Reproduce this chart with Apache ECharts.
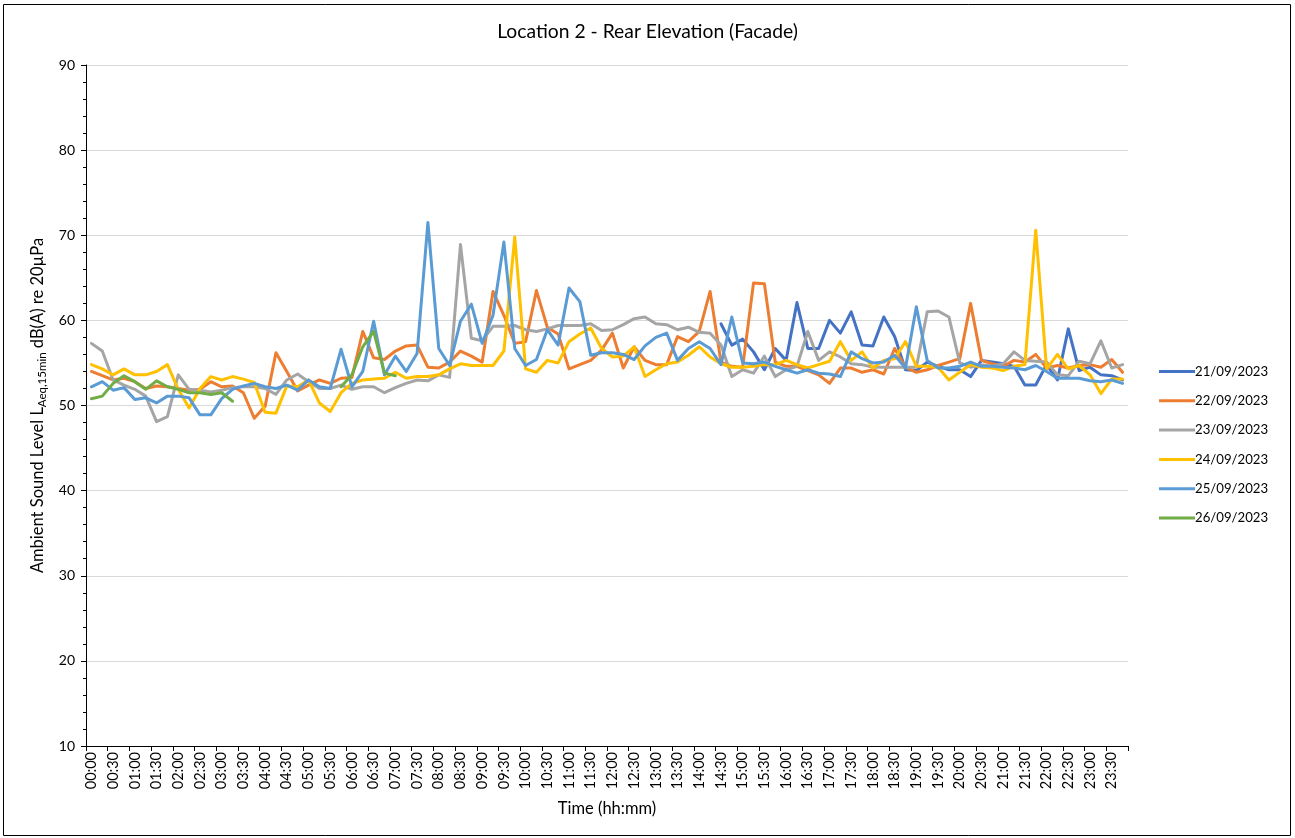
<!DOCTYPE html>
<html>
<head>
<meta charset="utf-8">
<title>Location 2 - Rear Elevation (Facade)</title>
<script src="https://cdn.jsdelivr.net/npm/echarts@6/dist/echarts.min.js"></script>
<style>
  html, body { margin: 0; padding: 0; background: #ffffff; }
  #chart { width: 1295px; height: 838px; }
</style>
</head>
<body>
<div id="chart"></div>
<script>
// 15-minute time slots across the day
const times = [];
for (let h = 0; h < 24; h++) {
  for (let m = 0; m < 60; m += 15) {
    times.push(String(h).padStart(2, '0') + ':' + String(m).padStart(2, '0'));
  }
}

const seriesNames = ['21/09/2023', '22/09/2023', '23/09/2023', '24/09/2023', '25/09/2023', '26/09/2023'];

// LAeq,15min per slot, dB(A); null where no measurement exists
const day21 = [
  null, null, null, null, null, null, null, null, null, null,
  null, null, null, null, null, null, null, null, null, null,
  null, null, null, null, null, null, null, null, null, null,
  null, null, null, null, null, null, null, null, null, null,
  null, null, null, null, null, null, null, null, null, null,
  null, null, null, null, null, null, null, null, 59.6, 57.1,
  57.8, 56.3, 54.2, 56.7, 55.3, 62.1, 56.7, 56.7, 60.0, 58.5,
  61.0, 57.1, 57.0, 60.4, 58.1, 54.2, 54.1, 55.1, 54.6, 54.2,
  54.2, 53.4, 55.3, 55.1, 54.9, 54.6, 52.4, 52.4, 54.8, 53.0,
  59.0, 54.1, 54.5, 53.6, 53.5, 53.0
];
const day22 = [
  54.0, 53.5, 53.0, 53.2, 52.8, 52.0, 52.3, 52.2, 52.0, 51.8,
  51.9, 52.8, 52.2, 52.3, 51.5, 48.5, 49.9, 56.2, 54.0, 51.7,
  52.4, 53.0, 52.6, 53.2, 53.3, 58.7, 55.6, 55.4, 56.4, 57.0,
  57.1, 54.5, 54.4, 55.1, 56.4, 55.8, 55.1, 63.4, 60.6, 57.3,
  57.5, 63.5, 59.2, 58.4, 54.3, 54.8, 55.3, 56.5, 58.5, 54.4,
  56.9, 55.3, 54.8, 54.8, 58.1, 57.5, 58.7, 63.4, 55.1, 54.6,
  54.5, 64.4, 64.3, 55.1, 54.6, 54.6, 54.1, 53.6, 52.6, 54.4,
  54.4, 53.9, 54.2, 53.7, 56.7, 54.5, 53.9, 54.2, 54.7, 55.1,
  55.5, 62.0, 55.3, 54.9, 54.6, 55.3, 55.1, 56.0, 54.4, 54.7,
  54.4, 54.7, 54.8, 54.5, 55.4, 53.9
];
const day23 = [
  57.3, 56.4, 53.0, 52.4, 51.9, 51.1, 48.1, 48.7, 53.6, 51.9,
  51.8, 51.6, 51.8, 52.1, 52.2, 52.2, 52.0, 51.3, 53.0, 53.7,
  52.8, 52.0, 52.0, 52.4, 51.9, 52.2, 52.2, 51.5, 52.1, 52.6,
  53.0, 52.9, 53.6, 53.3, 68.9, 57.9, 57.6, 59.3, 59.3, 59.4,
  58.9, 58.7, 59.0, 59.4, 59.4, 59.4, 59.6, 58.8, 58.9, 59.5,
  60.2, 60.4, 59.6, 59.5, 58.9, 59.2, 58.6, 58.5, 57.1, 53.4,
  54.2, 53.8, 55.8, 53.4, 54.2, 54.6, 58.7, 55.3, 56.3, 55.7,
  54.9, 54.8, 54.5, 54.5, 54.5, 54.5, 54.5, 61.0, 61.1, 60.4,
  55.0, 54.5, 54.8, 54.6, 54.9, 56.3, 55.3, 55.2, 55.1, 53.6,
  53.5, 55.2, 54.9, 57.6, 54.4, 54.8
];
const day24 = [
  54.8, 54.3, 53.6, 54.3, 53.6, 53.6, 54.0, 54.8, 51.9, 49.7,
  52.0, 53.4, 53.0, 53.4, 53.1, 52.7, 49.2, 49.1, 52.3, 52.2,
  53.0, 50.3, 49.3, 51.5, 52.6, 53.0, 53.1, 53.2, 53.9, 53.2,
  53.4, 53.4, 53.6, 54.3, 54.9, 54.7, 54.7, 54.7, 56.4, 69.8,
  54.3, 53.9, 55.3, 55.0, 57.5, 58.4, 59.1, 56.7, 55.7, 55.8,
  56.9, 53.4, 54.2, 54.9, 55.1, 55.9, 56.9, 55.7, 54.9, 54.5,
  54.5, 54.6, 54.8, 54.8, 55.3, 54.8, 54.4, 54.8, 55.2, 57.5,
  55.3, 56.3, 54.4, 55.3, 55.5, 57.5, 54.6, 54.6, 54.5, 53.0,
  53.9, 54.8, 54.5, 54.4, 54.1, 54.6, 54.8, 70.6, 54.3, 56.0,
  54.3, 54.7, 53.6, 51.4, 53.1, 53.1
];
const day25 = [
  52.2, 52.8, 51.8, 52.1, 50.7, 50.9, 50.3, 51.1, 51.1, 50.9,
  48.9, 48.9, 50.8, 51.9, 52.3, 52.6, 52.2, 52.0, 52.4, 51.8,
  53.0, 52.2, 52.0, 56.6, 52.2, 54.0, 59.9, 53.6, 55.8, 54.0,
  56.1, 71.5, 56.7, 54.7, 59.9, 61.9, 57.3, 60.6, 69.2, 56.7,
  54.7, 55.4, 58.9, 57.1, 63.8, 62.2, 55.9, 56.2, 56.2, 56.0,
  55.4, 57.0, 58.0, 58.5, 55.3, 56.7, 57.5, 56.7, 54.8, 60.4,
  55.0, 54.9, 55.1, 54.6, 54.2, 53.8, 54.2, 53.8, 53.7, 53.4,
  56.3, 55.5, 55.0, 55.1, 55.9, 54.4, 61.6, 55.3, 54.4, 54.4,
  54.6, 55.1, 54.6, 54.6, 54.5, 54.4, 54.2, 54.7, 54.0, 53.2,
  53.2, 53.2, 52.9, 52.8, 53.0, 52.6
];
const day26 = [
  50.8, 51.1, 52.6, 53.5, 52.8, 51.9, 52.9, 52.2, 51.9, 51.5,
  51.5, 51.3, 51.5, 50.5, null, null, null, null, null, null,
  null, null, null, 52.2, 53.6, 56.9, 58.7, 53.8, 53.5
];

const seriesData = [day21, day22, day23, day24, day25, day26];
const seriesColors = ['#4472C4', '#ED7D31', '#A5A5A5', '#FFC000', '#5B9BD5', '#70AD47'];

const FONT = 'Lato, "Noto Sans", sans-serif';

const chart = echarts.init(document.getElementById('chart'), null, { renderer: 'canvas' });

chart.setOption({
  backgroundColor: '#ffffff',
  animation: false,
  textStyle: { fontFamily: FONT },
  title: {
    text: 'Location 2 - Rear Elevation (Facade)',
    left: 'center',
    top: 17,
    textStyle: { fontFamily: FONT, fontSize: 19.3, fontWeight: 'normal', color: '#000000' }
  },
  graphic: [{
    type: 'rect',
    shape: { x: 3.5, y: 4.5, width: 1287, height: 831 },
    style: { fill: 'none', stroke: '#000000', lineWidth: 1 },
    silent: true,
    z: -1
  }],
  legend: {
    orient: 'vertical',
    left: 1154,
    top: 360,
    itemWidth: 36,
    itemHeight: 3,
    itemGap: 16.3,
    icon: 'rect',
    data: seriesNames,
    textStyle: { fontFamily: FONT, fontSize: 13.2, color: '#000000', padding: [0, 0, 0, -5] }
  },
  grid: { left: 86, right: 167, top: 65, bottom: 92 },
  xAxis: {
    type: 'category',
    data: times,
    boundaryGap: true,
    name: 'Time (hh:mm)',
    nameLocation: 'middle',
    nameGap: 54,
    nameTextStyle: { fontFamily: FONT, fontSize: 16.5, color: '#000000' },
    axisLine: { lineStyle: { color: '#000000', width: 1 } },
    axisTick: { show: true, interval: 1, length: 5, lineStyle: { color: '#000000' } },
    axisLabel: {
      interval: 1,
      rotate: 90,
      fontFamily: FONT,
      fontSize: 14.5,
      color: '#000000',
      margin: 6
    },
    splitLine: { show: false }
  },
  yAxis: {
    type: 'value',
    min: 10,
    max: 90,
    interval: 10,
    name: '{a|Ambient Sound Level L}{s|Aeq,15min}{a| dB(A) re 20µPa}',
    nameLocation: 'middle',
    nameGap: 36,
    nameRotate: 90,
    nameTextStyle: {
      rich: {
        a: { fontFamily: FONT, fontSize: 16.5, color: '#000000', lineHeight: 20, verticalAlign: 'middle' },
        s: { fontFamily: FONT, fontSize: 11.5, color: '#000000', lineHeight: 20, verticalAlign: 'bottom', padding: [7, 0, 0, 0] }
      }
    },
    axisLine: { show: true, lineStyle: { color: '#000000', width: 1 } },
    axisTick: { show: true, inside: false, length: 5, lineStyle: { color: '#000000' } },
    minorTick: { show: true, splitNumber: 5, length: 3, lineStyle: { color: '#000000' } },
    axisLabel: { fontFamily: FONT, fontSize: 14, color: '#000000', margin: 11 },
    splitLine: { show: true, lineStyle: { color: '#D9D9D9', width: 1 } }
  },
  series: seriesNames.map((name, k) => ({
    name: name,
    type: 'line',
    data: seriesData[k],
    color: seriesColors[k],
    showSymbol: false,
    symbol: 'none',
    connectNulls: false,
    lineStyle: { width: 3, color: seriesColors[k], join: 'round', cap: 'round' },
    emphasis: { disabled: true }
  }))
});
</script>
</body>
</html>
